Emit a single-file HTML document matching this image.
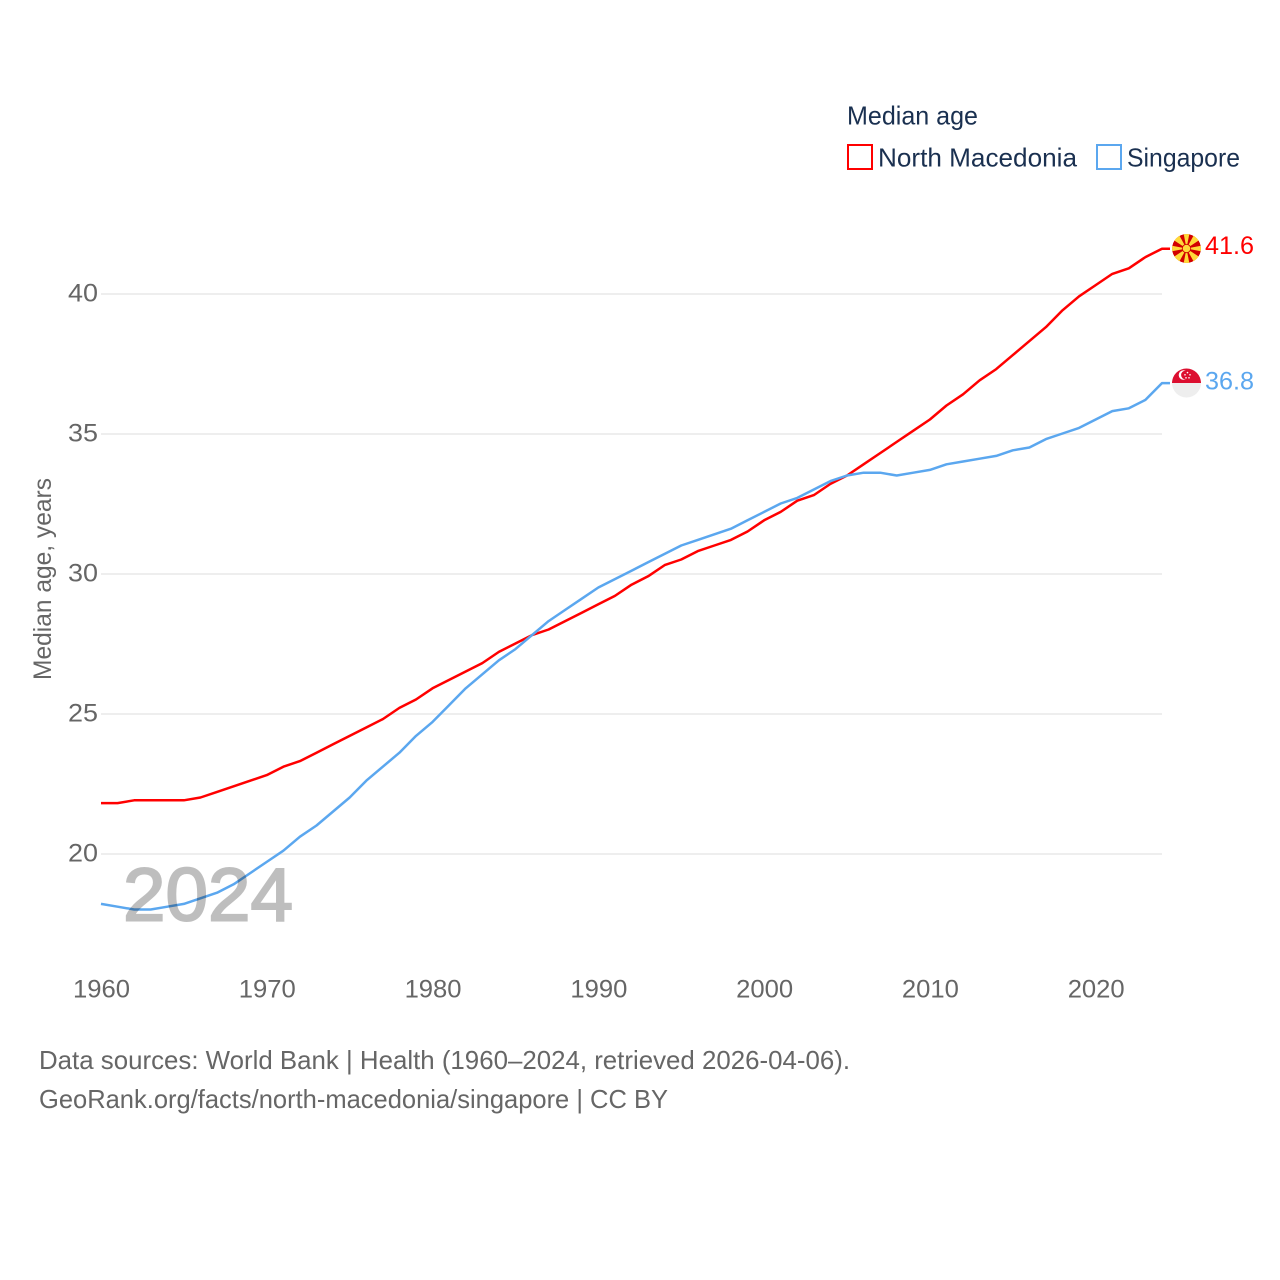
<!DOCTYPE html>
<html lang="en">
<head>
<meta charset="utf-8">
<title>Median age: North Macedonia and Singapore</title>
<style>
html,body{margin:0;padding:0;background:#fff;width:1280px;height:1280px;overflow:hidden}
svg{display:block}
text{font-family:"Liberation Sans",sans-serif}
</style>
</head>
<body>
<svg id="chart" xmlns="http://www.w3.org/2000/svg" width="1280" height="1280" viewBox="0 0 1280 1280">
  <defs>
    <clipPath id="clip-mk"><circle cx="1186.5" cy="248.5" r="14.5"/></clipPath>
    <clipPath id="clip-sg"><circle cx="1186.5" cy="383" r="14.5"/></clipPath>
  </defs>
  <g id="grid"></g>
  <g id="yticks"></g>
  <g id="xticks"></g>
  <g id="series" transform="translate(0,-0.5)"></g>
  <text id="year" x="123" y="920.5" font-size="75" fill="#000" stroke="#000" stroke-width="2" opacity="0.25" textLength="170" lengthAdjust="spacingAndGlyphs"></text>

  <text transform="translate(51,680) rotate(-90)" font-size="25" fill="#666" textLength="202" lengthAdjust="spacingAndGlyphs">Median age, years</text>

  <g>
    <text x="847" y="124.5" font-size="26" fill="#1a3050" textLength="131" lengthAdjust="spacingAndGlyphs">Median age</text>
    <rect x="848" y="145" width="24" height="24" fill="#fff" stroke="#ff0000" stroke-width="2"/>
    <text x="878" y="166.5" font-size="26" fill="#1a3050" textLength="199" lengthAdjust="spacingAndGlyphs">North Macedonia</text>
    <rect x="1097" y="145" width="24" height="24" fill="#fff" stroke="#5ba7ef" stroke-width="2"/>
    <text x="1127" y="166.5" font-size="26" fill="#1a3050" textLength="113" lengthAdjust="spacingAndGlyphs">Singapore</text>
  </g>

  <g clip-path="url(#clip-mk)">
    <circle cx="1186.5" cy="248.5" r="14.5" fill="#d20000"/>
    <g fill="#ffd93a">
      <polygon points="1186.5,248.5 1183.5,233 1189.5,233"/>
      <polygon points="1186.5,248.5 1183.5,264 1189.5,264"/>
      <polygon points="1186.5,248.5 1171,245.5 1171,251.5"/>
      <polygon points="1186.5,248.5 1202,245.5 1202,251.5"/>
      <polygon points="1186.5,248.5 1172,239 1178,233"/>
      <polygon points="1186.5,248.5 1201,239 1195,233"/>
      <polygon points="1186.5,248.5 1172,258 1178,264"/>
      <polygon points="1186.5,248.5 1201,258 1195,264"/>
      <circle cx="1186.5" cy="248.5" r="4.6" fill="#d20000"/>
      <circle cx="1186.5" cy="248.5" r="3.8"/>
    </g>
  </g>
  <g clip-path="url(#clip-sg)">
    <rect x="1172" y="368" width="29" height="15" fill="#dc0f30"/>
    <rect x="1172" y="383" width="29" height="15" fill="#eeeeee"/>
    <circle cx="1183.5" cy="375" r="4.8" fill="#fff"/>
    <circle cx="1185.5" cy="375" r="4.4" fill="#dc0f30"/>
    <g fill="#fff">
      <circle cx="1187.5" cy="372.6" r="0.8"/>
      <circle cx="1190" cy="374.8" r="0.8"/>
      <circle cx="1189" cy="377.8" r="0.8"/>
      <circle cx="1186" cy="377.8" r="0.8"/>
      <circle cx="1185" cy="374.8" r="0.8"/>
    </g>
  </g>

  <g id="endlabels"></g>

  <g>
    <text x="39" y="1069" font-size="26" fill="#666" textLength="811" lengthAdjust="spacingAndGlyphs">Data sources: World Bank | Health (1960–2024, retrieved 2026-04-06).</text>
    <text x="39" y="1108" font-size="26" fill="#666" textLength="629" lengthAdjust="spacingAndGlyphs">GeoRank.org/facts/north-macedonia/singapore | CC BY</text>
  </g>
</svg>
<script>
const years = [1960,1961,1962,1963,1964,1965,1966,1967,1968,1969,1970,1971,1972,1973,1974,1975,1976,1977,1978,1979,1980,1981,1982,1983,1984,1985,1986,1987,1988,1989,1990,1991,1992,1993,1994,1995,1996,1997,1998,1999,2000,2001,2002,2003,2004,2005,2006,2007,2008,2009,2010,2011,2012,2013,2014,2015,2016,2017,2018,2019,2020,2021,2022,2023,2024];
const northMacedonia = [21.8,21.8,21.9,21.9,21.9,21.9,22.0,22.2,22.4,22.6,22.8,23.1,23.3,23.6,23.9,24.2,24.5,24.8,25.2,25.5,25.9,26.2,26.5,26.8,27.2,27.5,27.8,28.0,28.3,28.6,28.9,29.2,29.6,29.9,30.3,30.5,30.8,31.0,31.2,31.5,31.9,32.2,32.6,32.8,33.2,33.5,33.9,34.3,34.7,35.1,35.5,36.0,36.4,36.9,37.3,37.8,38.3,38.8,39.4,39.9,40.3,40.7,40.9,41.3,41.6];
const singapore = [18.2,18.1,18.0,18.0,18.1,18.2,18.4,18.6,18.9,19.3,19.7,20.1,20.6,21.0,21.5,22.0,22.6,23.1,23.6,24.2,24.7,25.3,25.9,26.4,26.9,27.3,27.8,28.3,28.7,29.1,29.5,29.8,30.1,30.4,30.7,31.0,31.2,31.4,31.6,31.9,32.2,32.5,32.7,33.0,33.3,33.5,33.6,33.6,33.5,33.6,33.7,33.9,34.0,34.1,34.2,34.4,34.5,34.8,35.0,35.2,35.5,35.8,35.9,36.2,36.8];
const yTickValues = [20,25,30,35,40];
const xTickValues = [1960,1970,1980,1990,2000,2010,2020];

const NS = 'http://www.w3.org/2000/svg';
const xScale = function (year) { return 101 + (year - 1960) * (1162 - 101) / 64; };
const yScale = function (value) { return 854 - (value - 20) * 28; };
const RED = '#ff0000';
const BLUE = '#5ba7ef';
const STUB_X = 1170;

function svgEl(tag, attrs, parent) {
  const el = document.createElementNS(NS, tag);
  Object.keys(attrs).forEach(function (k) { el.setAttribute(k, attrs[k]); });
  parent.appendChild(el);
  return el;
}

const gridGroup = document.getElementById('grid');
const yGroup = document.getElementById('yticks');
yTickValues.forEach(function (v) {
  const line = svgEl('line', {x1: 101, x2: 1162, y1: yScale(v), y2: yScale(v), stroke: '#eeeeee', 'stroke-width': 2}, gridGroup);
  
  
  const label = svgEl('text', {x: 98, y: yScale(v) + 7.5, 'text-anchor': 'end', 'font-size': 25, fill: '#666', textLength: 30, lengthAdjust: 'spacingAndGlyphs'}, yGroup);
  
  
  label.textContent = String(v);
});

const xGroup = document.getElementById('xticks');
xTickValues.forEach(function (v) {
  const label = svgEl('text', {x: xScale(v) + 0.5, y: 997.5, 'text-anchor': 'middle', 'font-size': 25, fill: '#666', textLength: 57, lengthAdjust: 'spacingAndGlyphs'}, xGroup);
  
  
  label.textContent = String(v);
});

function drawSeries(values, color, name) {
  const group = document.getElementById('series');
  const pts = values.map(function (v, i) { return xScale(years[i]).toFixed(2) + ',' + yScale(v).toFixed(2); });
  pts.push(STUB_X + ',' + yScale(values[values.length - 1]).toFixed(2));
  const line = svgEl('polyline', {points: pts.join(' '), fill: 'none', stroke: color, 'stroke-width': 2.5, 'stroke-linejoin': 'round'}, group);
  
  
}
drawSeries(northMacedonia, RED, 'north-macedonia');
drawSeries(singapore, BLUE, 'singapore');

function drawEndLabel(values, color, name, dy) {
  const group = document.getElementById('endlabels');
  const last = values[values.length - 1];
  const label = svgEl('text', {x: 1205, y: yScale(last) + dy, 'font-size': 25, fill: color, textLength: 49, lengthAdjust: 'spacingAndGlyphs'}, group);
  
  
  label.textContent = last.toFixed(1);
}
drawEndLabel(northMacedonia, RED, 'north-macedonia', 5);
drawEndLabel(singapore, BLUE, 'singapore', 6);

document.getElementById('year').textContent = String(years[years.length - 1]);
</script>
</body>
</html>
